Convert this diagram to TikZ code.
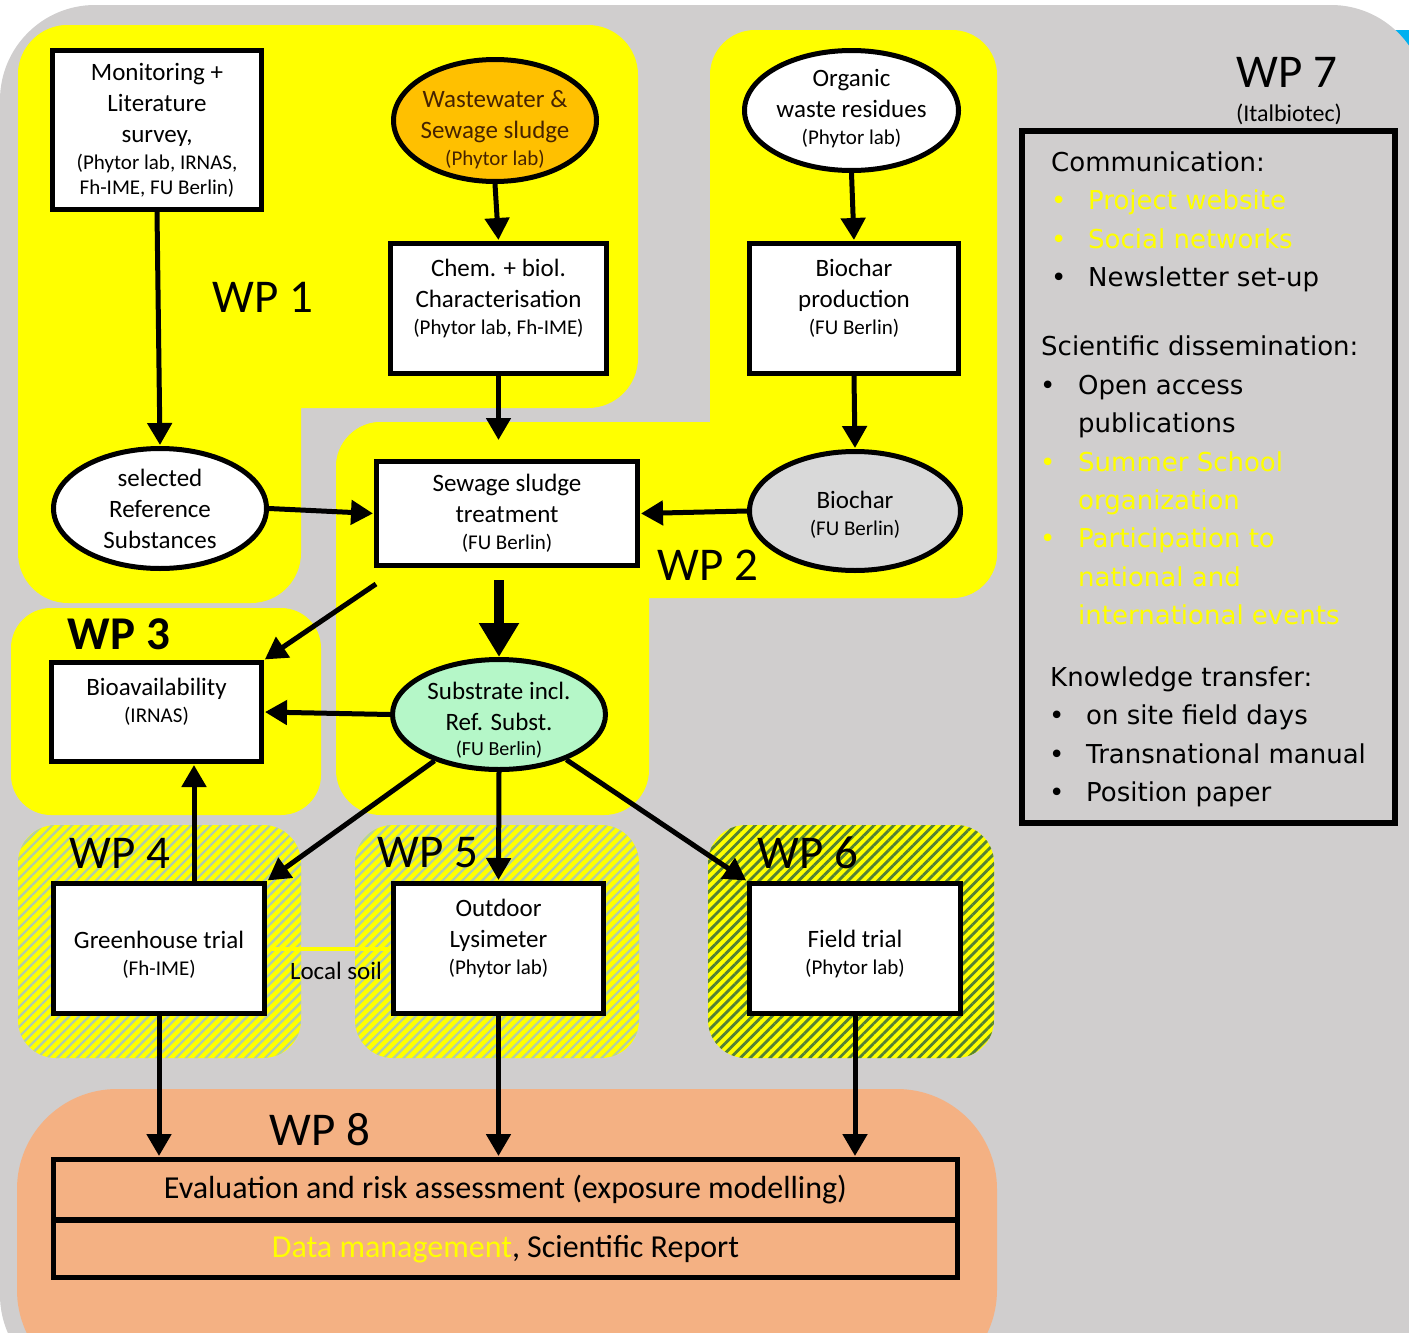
\documentclass[tikz,border=0pt]{standalone}
\usepackage{fontspec}
\setmainfont{Carlito}
\newfontfamily\panelfont{DejaVu Sans}
\usetikzlibrary{positioning,shapes.geometric,arrows.meta,patterns.meta}

\definecolor{bggray}{RGB}{208,206,206}
\definecolor{wpyellow}{RGB}{255,255,0}
\definecolor{sludge}{RGB}{255,192,0}
\definecolor{sludgetext}{RGB}{70,35,0}
\definecolor{substrate}{RGB}{181,247,200}
\definecolor{charbg}{RGB}{217,217,217}
\definecolor{evalorange}{RGB}{244,177,131}
\definecolor{palestripe}{RGB}{175,205,170}
\definecolor{darkstripe}{RGB}{84,130,53}
\definecolor{cornerblue}{RGB}{0,176,240}

\newcommand{\mainsize}{\fontsize{25}{31}\selectfont}
\newcommand{\aff}[1]{{\fontsize{21}{26}\selectfont #1}}

\begin{document}
\begin{tikzpicture}[x=1pt, y=-1pt, >={Triangle[length=22pt,width=24pt]},
  every box/.style={draw, line width=5pt, fill=white, align=center, inner sep=0pt, font=\mainsize},
  every blob/.style={ellipse, draw, line width=5pt, inner sep=0pt},
  blob text/.style={align=center, inner sep=0pt, font=\mainsize},
  link/.style={->, line width=5pt, shorten >=1pt},
  big link/.style={-{Triangle[length=34pt,width=38pt]}, line width=10pt},
  wp label/.style={inner sep=0pt, font=\fontsize{47}{52}\selectfont},
  panel text/.style={inner sep=0pt, anchor=base west, font=\panelfont\fontsize{26}{32}\selectfont},
  pale hatch/.style={preaction={fill=wpyellow}, pattern={Lines[angle=45,distance=7pt,line width=2.2pt]}, pattern color=palestripe},
  dark hatch/.style={preaction={fill=wpyellow}, pattern={Lines[angle=45,distance=7pt,line width=2.8pt]}, pattern color=darkstripe}]

\useasboundingbox (0,0) rectangle (1409,1333);

% background
\fill[cornerblue] (1380,30) rectangle (1409,200);
\fill[bggray, rounded corners=95pt] (0,5) rectangle (1426,1390);

% work package areas
\fill[wpyellow, rounded corners=50pt] (18,25) rectangle (638,408);
\fill[wpyellow, rounded corners=50pt] (18,25) rectangle (301,603);
\fill[wpyellow, rounded corners=45pt] (710,30) rectangle (997,598);
\fill[wpyellow, rounded corners=45pt] (336,422) rectangle (997,598);
\fill[wpyellow, rounded corners=45pt] (336,422) rectangle (649,815);
\fill[wpyellow, rounded corners=40pt] (11,608) rectangle (321,815);
\path[pale hatch, rounded corners=38pt] (18,825) rectangle (301,1058);
\path[pale hatch, rounded corners=38pt] (355,825) rectangle (639,1058);
\path[dark hatch, rounded corners=38pt] (708,825) rectangle (994,1058);
\fill[evalorange, rounded corners=100pt] (17,1089) rectangle (997,1390);

% WP 1 and WP 2
\node[every box, minimum width=209, minimum height=159] (monitor) at (157,130)
  {Monitoring +\\Literature\\survey,\\[-4pt]\aff{(Phytor lab, IRNAS,}\\[-6pt]\aff{Fh-IME, FU Berlin)}};
\node[every blob, fill=sludge, minimum width=203, minimum height=122,
  label={[blob text, text=sludgetext, yshift=-9pt]center:Wastewater \&\\Sewage sludge\\[-4pt]\aff{(Phytor lab)}}] (sludge) at (495,120.5) {};
\node[every box, minimum width=216, minimum height=130] (chem) at (498.5,308.5)
  {Chem. + biol.\\Characterisation\\[-4pt]\aff{(Phytor lab, Fh-IME)}\\[-7pt]\mbox{}};
\node[every blob, fill=white, minimum width=214, minimum height=120,
  label={[blob text, yshift=2pt]center:Organic\\waste residues\\[-4pt]\aff{(Phytor lab)}}] (organic) at (851.5,110.5) {};
\node[every box, minimum width=209, minimum height=130] (production) at (854,308.5)
  {Biochar\\production\\[-4pt]\aff{(FU Berlin)}\\[-7pt]\mbox{}};
\node[every blob, fill=white, minimum width=213, minimum height=120,
  label={[blob text]center:selected\\Reference\\Substances}] (refsub) at (160,508.5) {};
\node[every box, minimum width=261, minimum height=104] (treatment) at (507,513.5)
  {Sewage sludge\\treatment\\[-4pt]\aff{(FU Berlin)}};
\node[every blob, fill=charbg, minimum width=211, minimum height=119,
  label={[blob text, yshift=-4pt]center:Biochar\\[-4pt]\aff{(FU Berlin)}}] (biochar) at (855,511) {};
\node[every blob, fill=substrate, minimum width=213, minimum height=110,
  label={[blob text, yshift=-6pt]center:Substrate incl.\\Ref. Subst.\\[-6pt]{\fontsize{20}{24}\selectfont (FU Berlin)}}] (substrate) at (499,714.5) {};

% WP 3 to WP 6
\node[every box, minimum width=210, minimum height=99] (bioavail) at (156.5,712)
  {Bioavailability\\[-4pt]\aff{(IRNAS)}\\[-7pt]\mbox{}};
\node[every box, minimum width=211, minimum height=130] (greenhouse) at (159,948.5)
  {\mbox{}\\[-2pt]Greenhouse trial\\[-4pt]\aff{(Fh-IME)}};
\node[every box, minimum width=210, minimum height=130] (lysimeter) at (498.5,948.5)
  {Outdoor\\Lysimeter\\[-4pt]\aff{(Phytor lab)}\\[-7pt]\mbox{}};
\node[every box, minimum width=211, minimum height=130] (field) at (855,948.5)
  {\mbox{}\\[-2pt]Field trial\\[-4pt]\aff{(Phytor lab)}};

% WP 8
\node[every box, fill=none, minimum width=904, minimum height=60, font=\fontsize{32}{36}\selectfont] (evaluation) at (505.5,1189.5)
  {Evaluation and risk assessment (exposure modelling)};
\node[every box, fill=none, minimum width=904, minimum height=57, font=\fontsize{32}{36}\selectfont] (report) at (505.5,1249)
  {\textcolor{wpyellow}{Data management}, Scientific Report};

% labels
\node[wp label] (wp1) at (263,297) {WP 1};
\node[wp label] (wp2) at (708,565) {WP 2};
\node[wp label, font=\bfseries\fontsize{47}{52}\selectfont] (wp3) at (119,634) {WP 3};
\node[wp label] (wp4) at (120,853) {WP 4};
\node[wp label] (wp5) at (428,853) {WP 5};
\node[wp label] (wp6) at (808,853) {WP 6};
\node[wp label] (wp7) at (1287,72) {WP 7};
\node[wp label] (wp8) at (320,1130) {WP 8};
\node[inner sep=0pt, font=\fontsize{24}{28}\selectfont] (italbiotec) at (1289,114) {(Italbiotec)};

% connectors
\draw[link] (monitor.south) -- (refsub.north);
\draw[link] (sludge.south) -- (chem.north);
\draw[link, shorten >=19pt] (chem.south) -- (chem.south |- treatment.north);
\draw[link] (organic.south) -- (production.north);
\draw[link] (production.south) -- (biochar.north);
\draw[link] (refsub.east) -- (treatment.west);
\draw[link] (biochar.west) -- (treatment.east);
\draw[big link, shorten <=12pt] (substrate.north |- treatment.south) -- (substrate.north);
\draw[link] ([shift={(2,16)}]treatment.south west) -- (bioavail.north east);
\draw[link] (substrate.west) -- (bioavail.east);
\draw[link] ([xshift=35pt]greenhouse.north) -- ([xshift=37.5pt]bioavail.south);
\draw[link] (substrate) -- (greenhouse.north east);
\draw[link] (substrate.south) -- (lysimeter.north);
\draw[link] (substrate) -- (field.north west);
\draw[link] (greenhouse.south) -- (greenhouse.south |- evaluation.north);
\draw[link] (lysimeter.south) -- (lysimeter.south |- evaluation.north);
\draw[link] (field.south) -- (field.south |- evaluation.north);
\draw[wpyellow, line width=4pt, shorten <=2.5pt, shorten >=2.5pt] (greenhouse.east) -- (lysimeter.west)
  node[below=8pt, xshift=7pt, midway, text=black, font=\mainsize] (soil) {Local soil};

% WP 7 panel
\node[draw, line width=6pt, minimum width=373, minimum height=692, inner sep=0pt] (wp7-box) at (1208.5,477) {};
\node[panel text] (communication) at (1051,171) {Communication:};
\foreach \c/\y/\t [count=\i] in {wpyellow/209/Project website, wpyellow/248/Social networks, black/286/Newsletter set-up} {
  \node[panel text, text=\c] (comm-dot-\i) at (1051,\y) {•};
  \node[panel text, text=\c] (comm-\i) at (1088,\y) {\t};
}
\node[panel text] (dissemination) at (1041,355) {Scientific dissemination:};
\foreach \b/\c/\y/\t [count=\i] in {1/black/394/Open access, 0/black/432/publications, 1/wpyellow/471/Summer School,
    0/wpyellow/509/organization, 1/wpyellow/547/Participation to, 0/wpyellow/586/national and, 0/wpyellow/624/international events} {
  \ifnum\b=1 \node[panel text, text=\c] (diss-dot-\i) at (1040,\y) {•}; \fi
  \node[panel text, text=\c] (diss-\i) at (1078,\y) {\t};
}
\node[panel text] (knowledge) at (1050,686) {Knowledge transfer:};
\foreach \y/\t [count=\i] in {724/on site field days, 763/Transnational manual, 801/Position paper} {
  \node[panel text] (know-dot-\i) at (1049,\y) {•};
  \node[panel text] (know-\i) at (1086,\y) {\t};
}

\end{tikzpicture}
\end{document}
